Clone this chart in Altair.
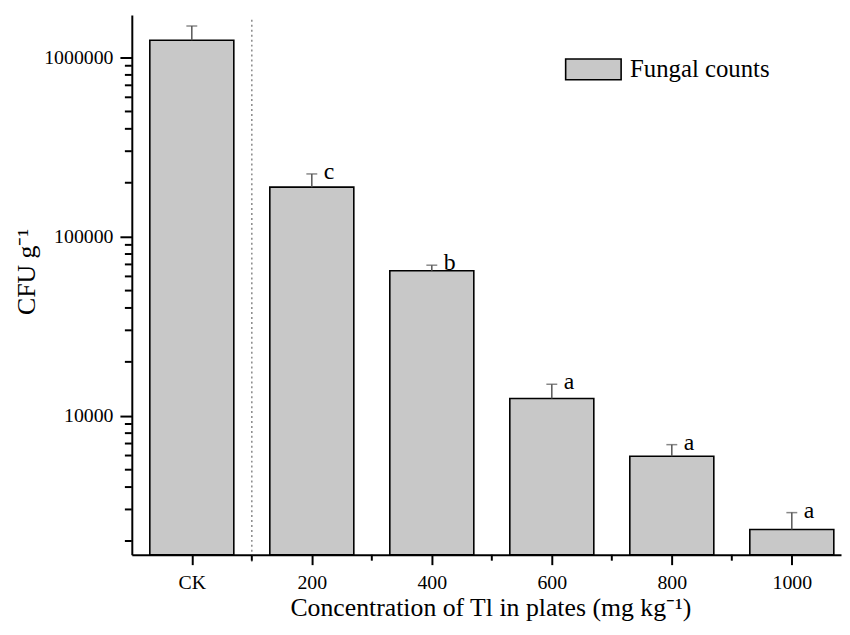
import altair as alt
import pandas as pd

# ---- data ----
categories = ['CK', '200', '400', '600', '800', '1000']
counts = [1250000, 189000, 64500, 12500, 5950, 2320]
errors = [250000, 35000, 4800, 2500, 950, 560]
letters = ['', 'c', 'b', 'a', 'a', 'a']
y_major = [10000, 100000, 1000000]
y_minor = [2000, 3000, 4000, 5000, 6000, 7000, 8000, 9000,
           20000, 30000, 40000, 50000, 60000, 70000, 80000, 90000,
           200000, 300000, 400000, 500000, 600000, 700000, 800000, 900000]
x_minor = [0.5, 1.5, 2.5, 3.5, 4.5]
divider = [0.5]
YMIN, YMAX = 1676, 1730000
XMIN, XMAX = -0.5, 5.41

df = pd.DataFrame({
    'idx': list(range(len(categories))),
    'cat': categories,
    'count': counts,
    'err': errors,
    'letter': letters,
    'series': ['Fungal counts'] * len(categories),
})
df['upper'] = df['count'] + df['err']

W, H = 716, 545
FONT = 'Liberation Serif'
xs = alt.Scale(domain=[XMIN, XMAX], nice=False, zero=False)
ys = alt.Scale(type='log', domain=[YMIN, YMAX], nice=False)

label_expr = "[" + ",".join(f"'{c}'" for c in categories) + "][datum.value]"
x_title = 'Concentration of Tl in plates (mg kg\u207b\u00b9)'
y_title = 'CFU g\u207b\u00b9'

base = alt.Chart(df)

bars = base.transform_calculate(
    x1='datum.idx - 0.35', x2='datum.idx + 0.35'
).mark_bar(stroke='black', strokeWidth=1.6, opacity=1).encode(
    x=alt.X('x1:Q', scale=xs, axis=alt.Axis(
        values=list(range(len(categories))), labelExpr=label_expr, title=x_title,
        tickSize=10, labelPadding=8, titlePadding=2, labelFontSize=20,
        titleX=W / 2 + 4)),
    x2='x2:Q',
    y=alt.Y('count:Q', scale=ys, axis=alt.Axis(
        values=y_major, format='d', title=y_title, tickSize=12,
        labelPadding=7, titlePadding=4, labelFontSize=20, titleY=259)),
    y2=alt.datum(YMIN),
    fill=alt.Fill('series:N', scale=alt.Scale(range=['#c8c8c8']), legend=alt.Legend(
        title=None, orient='none', legendX=437, legendY=26,
        symbolType='M-1,-0.375H1V0.375H-1Z', symbolSize=3136,
        symbolStrokeColor='black', symbolStrokeWidth=1.6, symbolOpacity=1,
        labelFont=FONT, labelFontSize=25, labelColor='black', labelOffset=8,
        padding=0)),
)

err_rule = base.mark_rule(color='#555555', strokeWidth=1.5).encode(
    x=alt.X('idx:Q', scale=xs),
    y=alt.Y('count:Q', scale=ys),
    y2='upper:Q',
)

err_cap = base.mark_tick(orient='horizontal', size=11, thickness=1.5, color='#555555').encode(
    x=alt.X('idx:Q', scale=xs),
    y=alt.Y('upper:Q', scale=ys),
)

letter_text = base.mark_text(align='left', baseline='alphabetic', dx=12, dy=5,
                             fontSize=24, font=FONT, color='black').encode(
    x=alt.X('idx:Q', scale=xs),
    y=alt.Y('upper:Q', scale=ys),
    text='letter:N',
)

div_rule = alt.Chart(pd.DataFrame({'v': divider})).mark_rule(
    color='#888888', strokeDash=[2, 3], strokeWidth=1.5).encode(
    x=alt.X('v:Q', scale=xs), y=alt.value(5), y2=alt.value(H + 8))

y_minor_ticks = alt.Chart(pd.DataFrame({'v': y_minor})).mark_rule(
    color='black', strokeWidth=2).encode(
    y=alt.Y('v:Q', scale=ys), x=alt.value(-7), x2=alt.value(0))

x_minor_ticks = alt.Chart(pd.DataFrame({'v': x_minor})).mark_rule(
    color='black', strokeWidth=2).encode(
    x=alt.X('v:Q', scale=xs), y=alt.value(H), y2=alt.value(H + 6))

chart = alt.layer(
    div_rule, bars, err_rule, err_cap, letter_text, y_minor_ticks, x_minor_ticks
).properties(
    width=W, height=H,
    padding={'left': 125, 'top': 4, 'right': 1, 'bottom': 72},
    autosize=alt.AutoSizeParams(type='none'),
).configure_view(stroke=None).configure_axis(
    domainColor='black', domainWidth=2, tickColor='black', tickWidth=2,
    labelFont=FONT, titleFont=FONT, labelColor='black', titleColor='black',
    grid=False, titleFontSize=26, titleFontWeight='normal',
)

chart.save('out.html', embed_options={'renderer': 'svg', 'actions': False})
